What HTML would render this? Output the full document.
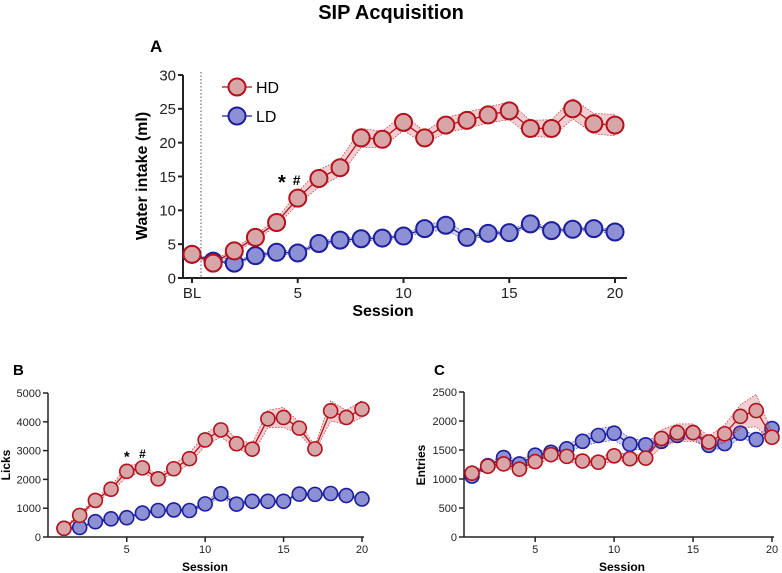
<!DOCTYPE html>
<html><head><meta charset="utf-8"><style>
body{margin:0;background:#fff;font-family:"Liberation Sans",Arial,sans-serif}
svg{display:block}
text{font-family:"Liberation Sans",Arial,sans-serif}
</style></head><body>
<svg id="fig" width="782" height="573" viewBox="0 0 782 573">
<text x="391" y="19" text-anchor="middle" font-size="20" font-weight="bold">SIP Acquisition</text>
<text x="150" y="52" font-size="17" font-weight="bold">A</text>
<text x="13" y="375" font-size="15" font-weight="bold">B</text>
<text x="434" y="375" font-size="15" font-weight="bold">C</text>
</svg>
<script>
// Panel A: water intake (BL, sessions 1..20)
const aSessions=[0,1,2,3,4,5,6,7,8,9,10,11,12,13,14,15,16,17,18,19,20];
const aHD=[3.5,2.2,4,6,8.2,11.8,14.7,16.3,20.7,20.5,23,20.7,22.6,23.3,24.1,24.7,22.1,22.1,25,22.8,22.6];
const aHDerr=[0.3,0.3,0.4,0.4,0.5,0.9,1.3,1.2,1.4,1.2,1.2,0.9,1.1,1.2,1.2,1.3,1.2,1.3,1.5,1.5,1.6];
const aLD=[3.5,2.5,2.2,3.3,3.8,3.7,5.1,5.6,5.8,5.9,6.2,7.3,7.8,6,6.6,6.7,8,7,7.2,7.3,6.8];
const aLDerr=[0.2,0.2,0.2,0.3,0.3,0.3,0.3,0.3,0.3,0.3,0.3,0.4,0.8,0.4,0.3,0.3,0.4,0.3,0.3,0.3,0.3];
const aYTicks=[0,5,10,15,20,25,30];
const aXTicks=[0,5,10,15,20];
const aXTickLabels=["BL","5","10","15","20"];
// Panel B: licks (sessions 1..20)
const sessions=[1,2,3,4,5,6,7,8,9,10,11,12,13,14,15,16,17,18,19,20];
const bHD=[300,750,1270,1660,2280,2400,2020,2370,2720,3370,3720,3240,3050,4100,4150,3780,3060,4380,4150,4440];
const bHDerr=[40,60,80,100,200,150,80,150,200,200,250,150,200,300,350,200,100,350,250,300];
const bLD=[300,330,530,630,670,830,920,940,920,1150,1500,1140,1240,1240,1240,1490,1480,1510,1440,1320];
const bLDerr=[30,30,40,40,40,40,40,40,40,60,120,60,50,50,50,50,50,50,60,50];
const bYTicks=[0,1000,2000,3000,4000,5000];
// Panel C: entries
const cHD=[1100,1220,1260,1170,1300,1420,1390,1310,1290,1400,1350,1360,1700,1800,1800,1640,1780,2080,2180,1720];
const cHDerr=[40,40,50,50,60,60,80,70,60,80,60,60,150,150,150,100,150,200,280,80];
const cLD=[1050,1230,1370,1260,1410,1460,1520,1650,1750,1790,1600,1590,1650,1750,1800,1580,1610,1790,1680,1870];
const cLDerr=[40,40,50,50,60,60,60,80,120,120,100,80,80,80,100,80,80,80,60,60];
const cYTicks=[0,500,1000,1500,2000,2500];
const bcXTicks=[5,10,15,20];

const svg=document.getElementById('fig');
const NS='http://www.w3.org/2000/svg';
function mk(tag,attrs,parent){const e=document.createElementNS(NS,tag);for(const k in attrs)e.setAttribute(k,attrs[k]);(parent||svg).appendChild(e);return e;}
const RED='#b3121c',REDF='#d9a6a8',REDB='rgba(200,60,70,0.25)';
const BLUE='#1c1e9c',BLUEF='#8d90d4',BLUEB='rgba(80,80,200,0.25)';

function panel(cfg){
  const g=mk('g',{});
  
  
  const sx=v=>cfg.x0+(v-cfg.xmin)*(cfg.x1-cfg.x0)/(cfg.xmax-cfg.xmin);
  const sy=v=>cfg.y0-(v-cfg.ymin)*(cfg.y0-cfg.y1)/(cfg.ymax-cfg.ymin);
  const ya=mk('line',{x1:cfg.ax,y1:cfg.y0,x2:cfg.ax,y2:cfg.y1,stroke:'#222','stroke-width':cfg.aw},g);
  
  const xa=mk('line',{x1:cfg.ax,y1:cfg.y0,x2:cfg.axEnd,y2:cfg.y0,stroke:'#222','stroke-width':cfg.aw},g);
  
  cfg.yTicks.forEach(t=>{
    mk('line',{x1:cfg.ax-5,y1:sy(t),x2:cfg.ax,y2:sy(t),stroke:'#222','stroke-width':cfg.aw},g);
    const tx=mk('text',{x:cfg.ax-7,y:sy(t)+cfg.fs*0.36,'text-anchor':'end','font-size':cfg.fs,fill:'#222'},g);
    tx.textContent=t;
    
  });
  cfg.xTicks.forEach((t,i)=>{
    mk('line',{x1:sx(t),y1:cfg.y0,x2:sx(t),y2:cfg.y0+5,stroke:'#222','stroke-width':cfg.aw},g);
    const tx=mk('text',{x:sx(t),y:cfg.y0+5+cfg.fs,'text-anchor':'middle','font-size':cfg.fs,fill:'#222'},g);
    tx.textContent=cfg.xLabels?cfg.xLabels[i]:t;
    
  });
  const xt=mk('text',{x:cfg.xtx,y:cfg.xty,'text-anchor':'middle','font-size':cfg.tfs,'font-weight':'bold'},g);
  xt.textContent='Session';
  const yt=mk('text',{x:cfg.ytx,y:cfg.yty,'text-anchor':'middle','font-size':cfg.tfs,'font-weight':'bold',transform:`rotate(-90 ${cfg.ytx} ${cfg.yty})`},g);
  yt.textContent=cfg.ytitle;
  cfg.series.forEach(s=>{
    const xs=cfg.xs;
    let up=xs.map((x,i)=>sx(x)+','+sy(s.v[i]+s.e[i])).join(' ');
    let dn=xs.map((x,i)=>sx(x)+','+sy(s.v[i]-s.e[i])).reverse().join(' ');
    const band=mk('polygon',{points:up+' '+dn,fill:s.band,stroke:s.stroke,'stroke-width':0.6,'stroke-dasharray':'1.5,1.5'},g);
    
    const ln=mk('polyline',{points:xs.map((x,i)=>sx(x)+','+sy(s.v[i])).join(' '),fill:'none',stroke:s.stroke,'stroke-width':1.3},g);
    
    xs.forEach((x,i)=>{
      const c=mk('circle',{cx:sx(x),cy:sy(s.v[i]),r:cfg.r,fill:s.fill,stroke:s.stroke,'stroke-width':cfg.mw},g);
      
    });
  });
  return {sx,sy,g};
}

const A=panel({name:'panel-a',xs:aSessions,x0:192,x1:615,xmin:0,xmax:20,y0:278,y1:75,ymin:0,ymax:30,ax:183,axEnd:627,aw:2,
  yTicks:aYTicks,xTicks:aXTicks,xLabels:aXTickLabels,fs:15,tfs:16,xtx:383,xty:316,ytx:147,yty:176,ytitle:'Water intake (ml)',r:8.5,mw:2,
  series:[{key:'ld',v:aLD,e:aLDerr,fill:BLUEF,stroke:BLUE,band:BLUEB},{key:'hd',v:aHD,e:aHDerr,fill:REDF,stroke:RED,band:REDB}]});
const dl=mk('line',{x1:201,y1:72,x2:201,y2:278,stroke:'#555','stroke-width':1,'stroke-dasharray':'1.5,2'});

let s1=mk('text',{x:A.sx(4.25),y:A.sy(14.5)+9,'font-size':20,'font-weight':'bold','text-anchor':'middle'});s1.textContent='*';

let s2=mk('text',{x:A.sx(4.95),y:A.sy(14.5)+5,'font-size':14,'font-weight':'bold','text-anchor':'middle'});s2.textContent='#';

[['HD',REDF,RED,87],['LD',BLUEF,BLUE,116]].forEach(([lab,f,s,y])=>{
  const lg=mk('g',{});
  
  
  mk('line',{x1:222,y1:y,x2:252,y2:y,stroke:s,'stroke-width':1.3},lg);
  mk('circle',{cx:237,cy:y,r:8.5,fill:f,stroke:s,'stroke-width':2},lg);
  const t=mk('text',{x:256,y:y+6,'font-size':16},lg);t.textContent=lab;
});

const B=panel({name:'panel-b',xs:sessions,x0:64,x1:362,xmin:1,xmax:20,y0:537,y1:393,ymin:0,ymax:5000,ax:48,axEnd:364,aw:1.5,
  yTicks:bYTicks,xTicks:bcXTicks,fs:11,tfs:12,xtx:205,xty:571,ytx:10,yty:465,ytitle:'Licks',r:7,mw:1.6,
  series:[{key:'ld',v:bLD,e:bLDerr,fill:BLUEF,stroke:BLUE,band:BLUEB},{key:'hd',v:bHD,e:bHDerr,fill:REDF,stroke:RED,band:REDB}]});
let b1=mk('text',{x:B.sx(5),y:B.sy(2280)-10,'font-size':15,'font-weight':'bold','text-anchor':'middle'});b1.textContent='*';

let b2=mk('text',{x:B.sx(6),y:B.sy(2400)-10,'font-size':12,'font-weight':'bold','text-anchor':'middle'});b2.textContent='#';


panel({name:'panel-c',xs:sessions,x0:472,x1:772,xmin:1,xmax:20,y0:537,y1:392,ymin:0,ymax:2500,ax:464,axEnd:774,aw:1.5,
  yTicks:cYTicks,xTicks:bcXTicks,fs:11,tfs:12,xtx:622,xty:571,ytx:425,yty:465,ytitle:'Entries',r:7,mw:1.6,
  series:[{key:'ld',v:cLD,e:cLDerr,fill:BLUEF,stroke:BLUE,band:BLUEB},{key:'hd',v:cHD,e:cHDerr,fill:REDF,stroke:RED,band:REDB}]});
</script>
</body></html>
